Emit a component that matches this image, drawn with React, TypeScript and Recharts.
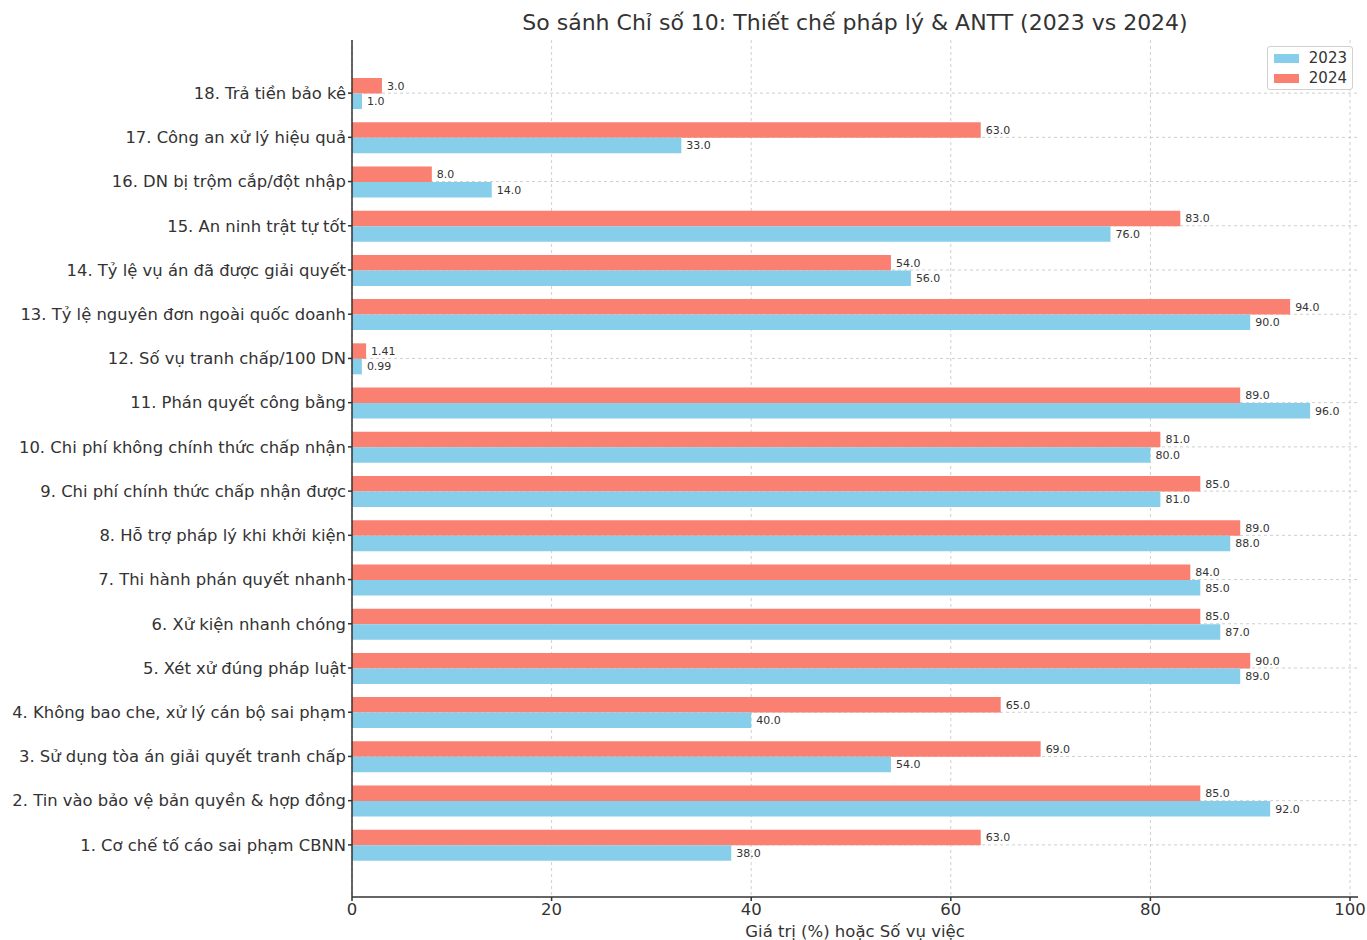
import React from "react";
import { BarChart, Bar, XAxis, YAxis, CartesianGrid, LabelList } from "recharts";

// categories listed 1 → 18 (drawn bottom → top)
const categories = [
  "1. Cơ chế tố cáo sai phạm CBNN",
  "2. Tin vào bảo vệ bản quyền & hợp đồng",
  "3. Sử dụng tòa án giải quyết tranh chấp",
  "4. Không bao che, xử lý cán bộ sai phạm",
  "5. Xét xử đúng pháp luật",
  "6. Xử kiện nhanh chóng",
  "7. Thi hành phán quyết nhanh",
  "8. Hỗ trợ pháp lý khi khởi kiện",
  "9. Chi phí chính thức chấp nhận được",
  "10. Chi phí không chính thức chấp nhận",
  "11. Phán quyết công bằng",
  "12. Số vụ tranh chấp/100 DN",
  "13. Tỷ lệ nguyên đơn ngoài quốc doanh",
  "14. Tỷ lệ vụ án đã được giải quyết",
  "15. An ninh trật tự tốt",
  "16. DN bị trộm cắp/đột nhập",
  "17. Công an xử lý hiệu quả",
  "18. Trả tiền bảo kê",
];

const values2023 = [38, 92, 54, 40, 89, 87, 85, 88, 81, 80, 96, 0.99, 90, 56, 76, 14, 33, 1];
const values2024 = [63, 85, 69, 65, 90, 85, 84, 89, 85, 81, 89, 1.41, 94, 54, 83, 8, 63, 3];

const xTicks = [0, 20, 40, 60, 80, 100];
const X_MAX = 100.8;
const Y_PAD = { top: 31, bottom: 30 };

const COLOR_2023 = "#87CEEB";
const COLOR_2024 = "#FA8072";
const FONT = "'DejaVu Sans', sans-serif";

// top of chart = last category, so reverse
const data = categories
  .map((name, i) => ({ name, y2023: values2023[i], y2024: values2024[i] }))
  .reverse();

const fmt = (v: any) => (Number.isInteger(v) ? Number(v).toFixed(1) : String(v));

// grid only at tick positions (no border lines)
const vGrid = ({ xAxis, offset }: any) => {
  try {
    const s = xAxis.scale;
    return xTicks.map((t) => s(t));
  } catch (e) {
    return xTicks.map((t) => offset.left + (t / X_MAX) * offset.width);
  }
};

const hGrid = ({ offset }: any) => {
  const bw = (offset.height - Y_PAD.top - Y_PAD.bottom) / data.length;
  return data.map((_, i) => offset.top + Y_PAD.top + (i + 0.5) * bw);
};

function LegendBox() {
  const items = [
    { label: "2023", color: COLOR_2023 },
    { label: "2024", color: COLOR_2024 },
  ];
  return (
    <div
      style={{
        position: "absolute",
        left: 1267,
        top: 46,
        border: "1px solid #d0d0d0",
        borderRadius: 3,
        background: "rgba(255,255,255,0.85)",
        padding: "1px 5px 1px 6px",
        width: 73,
        fontFamily: FONT,
        fontSize: 15,
        color: "#333",
      }}
    >
      {items.map((it) => (
        <div key={it.label} style={{ display: "flex", alignItems: "center", height: 20 }}>
          <span style={{ display: "inline-block", width: 27, height: 9, background: it.color, marginRight: 10 }} />
          <span>{it.label}</span>
        </div>
      ))}
    </div>
  );
}

export default function App() {
  return (
    <div style={{ position: "absolute", left: 0, top: 0, width: 1367, height: 940, background: "#fff", fontFamily: FONT, overflow: "hidden" }}>
      <BarChart
        width={1367}
        height={940}
        data={data}
        layout="vertical"
        margin={{ top: 40, right: 9, left: 0, bottom: 0 }}
        barGap={0}
        style={{ position: "absolute", left: 0, top: 0 }}
      >
        <CartesianGrid
          stroke="#cfcfcf"
          strokeDasharray="3 3"
          verticalCoordinatesGenerator={vGrid}
          horizontalCoordinatesGenerator={hGrid}
        />
        <XAxis
          type="number"
          domain={[0, X_MAX]}
          ticks={xTicks}
          height={43}
          stroke="#333"
          strokeWidth={1.5}
          tickSize={4}
          tickMargin={2}
          tick={{ fontSize: 16.5, fill: "#333", fontFamily: FONT }}
        />
        <YAxis
          type="category"
          dataKey="name"
          width={352}
          stroke="#333"
          strokeWidth={1.5}
          tickSize={4}
          tickMargin={2}
          padding={Y_PAD}
          interval={0}
          tick={{ fontSize: 16.4, fill: "#333", fontFamily: FONT }}
        />
        <Bar dataKey="y2024" name="2024" fill={COLOR_2024} barSize={15.5} isAnimationActive={false}>
          <LabelList dataKey="y2024" position="right" offset={5} formatter={fmt} style={{ fontSize: 11, fill: "#333", fontFamily: FONT }} />
        </Bar>
        <Bar dataKey="y2023" name="2023" fill={COLOR_2023} barSize={15.5} isAnimationActive={false}>
          <LabelList dataKey="y2023" position="right" offset={5} formatter={fmt} style={{ fontSize: 11, fill: "#333", fontFamily: FONT }} />
        </Bar>
      </BarChart>
      <div
        style={{
          position: "absolute",
          left: 352,
          width: 1006,
          top: 8,
          textAlign: "center",
          fontSize: 22,
          color: "#333",
          lineHeight: "30px",
        }}
      >
        So sánh Chỉ số 10: Thiết chế pháp lý &amp; ANTT (2023 vs 2024)
      </div>
      <LegendBox />
      <div
        style={{
          position: "absolute",
          left: 352,
          width: 1006,
          top: 921,
          textAlign: "center",
          fontSize: 16.5,
          color: "#333",
          lineHeight: "22px",
        }}
      >
        Giá trị (%) hoặc Số vụ việc
      </div>
    </div>
  );
}
